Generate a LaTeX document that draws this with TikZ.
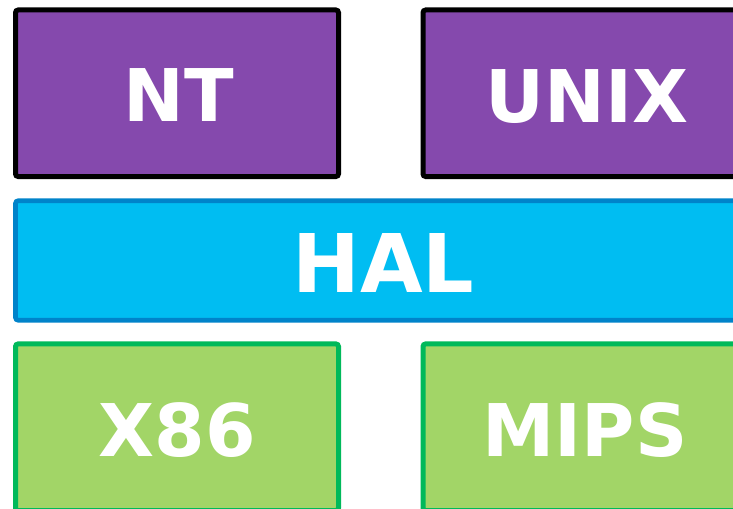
\documentclass[tikz,border=0pt]{standalone}
\usepackage{fontspec}
\setmainfont{DejaVu Sans}
\definecolor{purp}{RGB}{133,73,173}
\definecolor{halfill}{RGB}{0,189,242}
\definecolor{halline}{RGB}{0,131,202}
\definecolor{grfill}{RGB}{162,213,103}
\definecolor{grline}{RGB}{0,185,90}
\begin{document}
\begin{tikzpicture}[x=0.75pt,y=-0.75pt,
  box/.style={draw,line width=3.75pt,rounded corners=2pt,inner sep=0pt,outer sep=0pt},
  osbox/.style={box,draw=black,fill=purp,minimum width=242.25pt,minimum height=124.9pt},
  hwbox/.style={box,draw=grline,fill=grfill,minimum width=242.25pt,minimum height=125pt},
  halbox/.style={box,line width=3.5pt,draw=halline,fill=halfill,minimum width=552pt,minimum height=89.6pt},
  lbl/.style={font=\fontsize{54.5pt}{60pt}\selectfont\bfseries,text=white,anchor=base,inner sep=0pt},
  biglbl/.style={lbl,font=\fontsize{60.7pt}{66pt}\selectfont\bfseries}]
\useasboundingbox (0,0) rectangle (733,509);
\clip (0,0) rectangle (733,509);
\node[osbox] (nt) at (177,93.25) {};
\node[osbox] (unix) at (584.5,93.25) {};
\node[halbox] (hal) at (383.5,260.5) {};
\node[hwbox] (x86) at (177,427.25) {};
\node[hwbox] (mips) at (584.5,427.25) {};
\node[lbl] (ntt) at (179,122) {NT};
\node[lbl] (unixt) at (587,123) {UNIX};
\node[biglbl] (halt) at (383.5,293) {HAL};
\node[lbl] (x86t) at (177,457) {X86};
\node[lbl] (mipst) at (585,457) {MIPS};
\end{tikzpicture}
\end{document}
